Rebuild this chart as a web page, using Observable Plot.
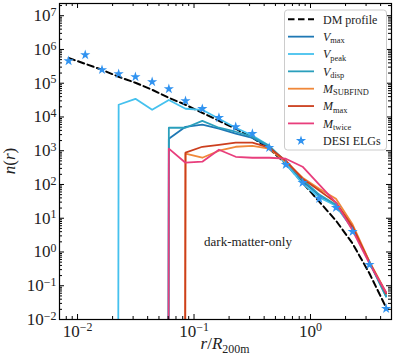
<!DOCTYPE html>
<html><head><meta charset="utf-8">
<script src="https://cdn.jsdelivr.net/npm/d3@7"></script>
<script src="https://cdn.jsdelivr.net/npm/@observablehq/plot@0.6"></script>
<style>
body{margin:0;background:#fff;}
#chart{width:399px;height:360px;}
</style></head><body><div id="chart"></div>
<script>
// radial bin centres r / R200m
const radius = [0.00838,0.01164,0.01622,0.02254,0.0314,0.0437,0.0608,0.0845,0.1178,0.1637,0.228,0.317,0.442,0.614,0.855,1.189,1.655,2.30,3.21,4.46];
const dmProfile = [5.6e5,3.75e5,2.5e5,1.55e5,1.03e5,6.4e4,3.7e4,2.3e4,1.33e4,7.7e3,4.5e3,2.43e3,1.15e3,412,113,31,8.5,1.77,0.23,0.0226];
const vmax     = [0,0,0,0,0,0,2270,5100,5900,4500,3200,2400,1310,442,129,47,23.6,4.9,0.49,0.051];
const vpeak    = [0,0,0,2.3e4,3.45e4,1.63e4,3.2e4,1.75e4,1.63e4,8900,4800,2800,1400,410,106,41,23.6,4.9,0.49,0.048];
const vdisp    = [0,0,0,0,0,0,4800,4800,7700,4800,3650,2600,1400,473,139,50,25,5.3,0.49,0.048];
const msubfind = [0,0,0,0,0,0,0,815,620,1000,1310,1400,1150,473,159,75,38,6.5,0.52,0.063];
const mmaxVals = [0,0,0,0,0,0,0,873,1310,1500,1730,1730,1230,506,149,66,29,5.6,0.49,0.059];
const mtwice   = [0,0,0,0,0,0,1150,442,473,1070,662,620,620,580,336,99,29,4.3,0.45,0.063];
const desiElgs = [4.6e5,6.9e5,2.5e5,1.9e5,1.55e5,1.1e5,6.8e4,3.0e4,1.75e4,9500,5100,3200,1230,385,113,38,20.6,4.0,0.42,0.021];

const xMajor = [0.01, 0.1, 1];
const yMajor = [1e-2,1e-1,1,1e1,1e2,1e3,1e4,1e5,1e6,1e7];
const xDomain = [0.007, 4.96];
const yDomain = [0.01, 2.3e7];

const colors = {dm:"#000000", vmax:"#1f78b4", vpeak:"#45c1ee", vdisp:"#2a9fbc", msub:"#f0883a", mmax:"#cc3f1e", mtwice:"#e83e7c", desi:"#3193f0"};

// minor ticks
const xMinor = [], yMinor = [];
for (const d of [0.001,0.01,0.1,1]) for (let k=2;k<=9;k++){const v=d*k; if(v>=xDomain[0]&&v<=xDomain[1]) xMinor.push(v);}
for (let e=-2;e<=7;e++) for (let k=2;k<=9;k++){const v=k*Math.pow(10,e); if(v<=yDomain[1]) yMinor.push(v);}

const W = 399, H = 360, mL = 59, mR = 8, mT = 3, mB = 41;
const fw = W - mL - mR, fh = H - mT - mB;

// zero counts are drawn off the bottom of the log axis, as matplotlib does
const rows = vals => radius.map((r,i)=>({r, n: vals[i] > 0 ? vals[i] : 1e-300}));
const line = (vals, color, extra={}) => Plot.line(rows(vals), {x:"r", y:"n", stroke: color, strokeWidth: 1.8, clip: true, ...extra});

const expFmt = d => "10^" + Math.round(Math.log10(d));

const svg = Plot.plot({
  width: W, height: H,
  marginLeft: mL, marginRight: mR, marginTop: mT, marginBottom: mB,
  style: {fontFamily: "'Liberation Serif', serif", fontSize: "17px", background: "#fff", color: "#222"},
  x: {type: "log", domain: xDomain, label: null},
  y: {type: "log", domain: yDomain, label: null},
  marks: [
    line(dmProfile, colors.dm, {strokeWidth: 2, strokeDasharray: "6.5,3.5"}),
    line(vmax, colors.vmax),
    line(vpeak, colors.vpeak),
    line(vdisp, colors.vdisp),
    line(msubfind, colors.msub),
    line(mmaxVals, colors.mmax),
    line(mtwice, colors.mtwice),
    Plot.dot(radius.map((r,i)=>({r, n: desiElgs[i]})), {x:"r", y:"n", symbol:"star", r: 3.2, fill: colors.desi, stroke: "none"}),
    // inward ticks on all four sides
    Plot.tickX(xMajor, {x: d=>d, insetTop: fh-5, stroke:"#000"}),
    Plot.tickX(xMajor, {x: d=>d, insetBottom: fh-5, stroke:"#000"}),
    Plot.tickX(xMinor, {x: d=>d, insetTop: fh-3, stroke:"#000"}),
    Plot.tickX(xMinor, {x: d=>d, insetBottom: fh-3, stroke:"#000"}),
    Plot.tickY(yMajor, {y: d=>d, insetRight: fw-5, stroke:"#000"}),
    Plot.tickY(yMajor, {y: d=>d, insetLeft: fw-5, stroke:"#000"}),
    Plot.tickY(yMinor, {y: d=>d, insetRight: fw-3, stroke:"#000"}),
    Plot.tickY(yMinor, {y: d=>d, insetLeft: fw-3, stroke:"#000"}),
    Plot.axisX(xMajor, {tickSize: 0, tickPadding: 5, tickFormat: expFmt, label: null}),
    Plot.axisY(yMajor, {tickSize: 0, tickPadding: 3, tickFormat: expFmt, label: null}),
    Plot.frame({stroke: "#000", strokeWidth: 1.2})
  ]
});
document.getElementById("chart").appendChild(svg);

const NS = "http://www.w3.org/2000/svg";
// superscript exponents in tick labels
svg.querySelectorAll('g[aria-label$="tick label"] text').forEach(t => {
  const s = t.textContent; const parts = s.split("^");
  if (parts.length < 2) return;
  t.textContent = "";
  const b = document.createElementNS(NS,"tspan"); b.textContent = parts[0]; t.appendChild(b);
  const e = document.createElementNS(NS,"tspan"); e.textContent = parts[1].replace("-", "\u2212");
  e.setAttribute("dy","-0.45em"); e.setAttribute("font-size","0.7em"); t.appendChild(e);
});

const g = d3.select(svg).append("g").attr("font-family","'Liberation Serif', serif").attr("fill","#222");

// axis titles
const yl = g.append("text").attr("transform","translate(15,161) rotate(-90)").attr("text-anchor","middle").attr("font-size",17);
yl.append("tspan").attr("font-style","italic").text("n");
yl.append("tspan").text("(");
yl.append("tspan").attr("font-style","italic").text("r");
yl.append("tspan").text(")");

const xl = g.append("text").attr("x",225).attr("y",349).attr("text-anchor","middle").attr("font-size",17);
xl.append("tspan").attr("font-style","italic").text("r");
xl.append("tspan").text("/");
xl.append("tspan").attr("font-style","italic").text("R");
xl.append("tspan").attr("font-size","0.7em").attr("dy","0.3em").text("200m");

// annotation
g.append("text").attr("x",248).attr("y",246).attr("text-anchor","middle").attr("font-size",13).text("dark-matter-only");

// legend
const legendItems = [
  {label:"DM profile", color: colors.dm, dash:true},
  {sym:"V", sub:"max", color: colors.vmax},
  {sym:"V", sub:"peak", color: colors.vpeak},
  {sym:"V", sub:"disp", color: colors.vdisp},
  {sym:"M", sub:"SUBFIND", color: colors.msub},
  {sym:"M", sub:"max", color: colors.mmax},
  {sym:"M", sub:"twice", color: colors.mtwice},
  {label:"DESI ELGs", color: colors.desi, star:true}
];
const lg = g.append("g");
lg.append("rect").attr("x",284.5).attr("y",10).attr("width",102).attr("height",140).attr("rx",3)
  .attr("fill","rgba(255,255,255,0.85)").attr("stroke","#cccccc").attr("stroke-width",1);
legendItems.forEach((it,i) => {
  const y = 19.3 + i*17.35;
  if (it.star) {
    lg.append("path").attr("d", d3.symbol(d3.symbolStar, Math.PI*3.2*3.2)()).attr("transform",`translate(301,${y})`).attr("fill", it.color);
  } else {
    const l = lg.append("line").attr("x1",288).attr("x2",314).attr("y1",y).attr("y2",y).attr("stroke",it.color).attr("stroke-width", it.dash?2:1.8);
    if (it.dash) l.attr("stroke-dasharray","6.5,3.5");
  }
  const t = lg.append("text").attr("x",323).attr("y",y).attr("dy","0.35em").attr("font-size",12).attr("text-anchor","start");
  if (it.label) t.text(it.label);
  else {
    t.append("tspan").attr("font-style","italic").text(it.sym);
    t.append("tspan").attr("font-size","0.7em").attr("dy","0.3em").text(it.sub);
  }
});
</script></body></html>
